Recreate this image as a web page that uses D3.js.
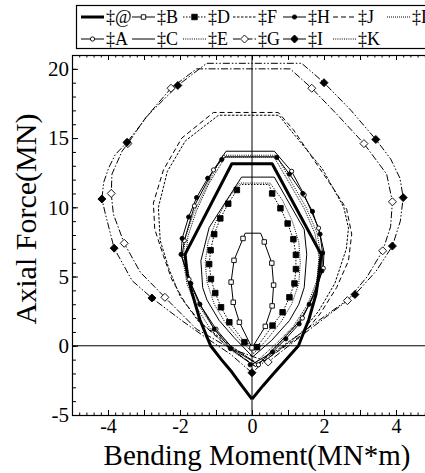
<!DOCTYPE html>
<html>
<head>
<meta charset="utf-8">
<script src="https://cdn.jsdelivr.net/npm/d3@7"></script>
<style>
  body { margin: 0; background: #fff; }
  svg text { fill: #000; }
</style>
</head>
<body>
<div id="chart"></div>
<script>
// each curve: [bending moment (MN*m), axial force (MN)]
var curveAt = [[0,-3.85],[-0.28,-2.9],[-0.56,-1.9],[-0.85,-1.0],[-1.15,0],[-1.45,1.9],[-1.67,3.86],[-1.8,5.2],[-1.86,6.6],[-0.56,13.15],[0.56,13.15],[1.92,6.6],[1.86,5.2],[1.78,3.74],[1.58,1.9],[1.29,0],[0.95,-1.0],[0.62,-1.95],[0.3,-2.9],[0,-3.85]];
var curveA = [[0.18,-1.37],[-0.5,-0.3],[-1.0,1.2],[-1.4,2.8],[-1.75,4.8],[-1.95,6.4],[-1.88,7.6],[-1.6,10.1],[-1.07,12.7],[-0.72,14.05],[0.62,14.05],[1.1,12.6],[1.45,10.9],[1.85,8.5],[2.0,6.8],[1.98,5.6],[1.75,3.8],[1.4,2.0],[0.9,0.6],[0.18,-1.37]];
var markA = [[0.18,-1.37],[-1.0,1.2],[-1.75,4.8],[-1.88,7.6],[-1.6,10.1],[-1.07,12.7],[1.1,12.6],[1.45,10.9],[1.85,8.5],[1.98,5.6],[1.4,2.0]];
var curveB = [[0,-0.15],[-0.35,1.7],[-0.52,3.14],[-0.58,4.6],[-0.5,6.17],[-0.25,7.75],[-0.19,8.13],[0.24,8.13],[0.34,7.5],[0.55,5.97],[0.6,4.38],[0.56,2.88],[0.37,1.4],[0,-0.15]];
var markB = [[0,-0.15],[-0.35,1.7],[-0.52,3.14],[-0.58,4.6],[-0.5,6.17],[-0.25,7.75],[0.34,7.5],[0.55,5.97],[0.6,4.38],[0.56,2.88],[0.37,1.4]];
var curveC = [[0.02,-0.8],[-0.5,0.6],[-0.91,1.82],[-1.25,3.3],[-1.37,4.2],[-1.42,6.14],[-1.19,8.54],[-0.29,12.18],[0.62,12.18],[1.45,8.4],[1.52,6.6],[1.45,4.2],[1.3,3.0],[1.04,1.82],[0.55,0.4],[0.02,-0.8]];
var curveD = [[0.14,-0.1],[-0.21,0.26],[-0.63,1.7],[-0.86,2.78],[-1.02,3.81],[-1.14,4.82],[-1.19,5.9],[-1.15,6.9],[-1.05,8.06],[-0.88,9.2],[-0.66,10.26],[-0.42,11.25],[-0.32,11.65],[0.47,11.65],[0.56,11.0],[0.79,9.93],[0.99,8.83],[1.15,7.7],[1.22,6.57],[1.22,5.54],[1.18,4.5],[1.04,3.5],[0.85,2.42],[0.57,1.46],[0.14,-0.1]];
var markD = [[0.14,-0.1],[-0.21,0.26],[-0.63,1.7],[-0.86,2.78],[-1.02,3.81],[-1.14,4.82],[-1.19,5.9],[-1.15,6.9],[-1.05,8.06],[-0.88,9.2],[-0.66,10.26],[-0.42,11.25],[0.56,11.0],[0.79,9.93],[0.99,8.83],[1.15,7.7],[1.22,6.57],[1.22,5.54],[1.18,4.5],[1.04,3.5],[0.85,2.42],[0.57,1.46]];
var curveE = [[0.05,-0.55],[-0.3,0.3],[-0.75,1.7],[-1.05,3.0],[-1.25,4.6],[-1.3,6.0],[-1.22,7.5],[-1.0,9.0],[-0.7,10.5],[-0.35,11.75],[0.5,11.75],[0.85,10.5],[1.12,9.0],[1.3,7.5],[1.34,6.0],[1.3,4.5],[1.1,3.0],[0.8,1.7],[0.4,0.4],[0.05,-0.55]];
var curveF = [[0.15,-1.3],[-0.6,0.0],[-1.5,1.8],[-2.0,3.6],[-2.3,5.5],[-2.55,7.6],[-2.6,10.0],[-2.35,12.6],[-1.85,14.8],[-0.93,16.65],[0.75,16.65],[1.0,15.8],[1.95,12.8],[2.55,10.0],[2.68,8.5],[2.62,7.0],[2.3,4.5],[1.85,2.5],[1.35,0.9],[0.15,-1.3]];
var curveG = [[0.45,-1.17],[-0.6,-0.2],[-1.54,1.2],[-2.42,3.5],[-3.1,5.3],[-3.55,7.4],[-3.85,9.5],[-3.91,11.0],[-3.89,12.4],[-3.61,14.05],[-3.45,14.6],[-2.96,16.45],[-2.25,18.6],[-1.54,20.0],[1.06,20.0],[1.66,18.6],[2.4,16.6],[3.11,14.6],[3.74,12.4],[3.9,10.4],[3.85,8.6],[3.63,6.86],[3.2,5.0],[2.65,3.26],[1.61,1.2],[0.45,-1.17]];
var markG = [[0.45,-1.17],[-2.42,3.5],[-3.55,7.4],[-3.91,11.0],[-3.45,14.6],[-2.25,18.6],[1.66,18.6],[3.11,14.6],[3.9,10.4],[3.63,6.86],[2.65,3.26]];
var curveH = [[0,-1.35],[-0.6,-0.2],[-1.05,1.2],[-1.45,3.0],[-1.7,4.5],[-1.97,6.6],[-1.94,7.75],[-1.76,9.3],[-1.54,10.7],[-1.23,12.1],[-0.84,13.45],[-0.75,13.65],[0.62,13.65],[0.69,13.6],[1.04,12.4],[1.41,11.0],[1.68,9.7],[1.89,8.06],[1.96,6.7],[1.94,5.4],[1.75,4.0],[1.59,3.0],[1.31,1.58],[0.94,0.5],[0.57,-0.45],[0,-1.35]];
var markH = [[-0.05,-1.37],[-0.6,-0.2],[-1.05,1.2],[-1.45,3.0],[-1.7,4.5],[-1.97,6.6],[-1.94,7.75],[-1.76,9.3],[-1.54,10.7],[-1.23,12.1],[-0.84,13.45],[0.69,13.6],[1.04,12.4],[1.41,11.0],[1.68,9.7],[1.89,8.06],[1.96,6.7],[1.94,5.4],[1.59,3.0],[1.31,1.58],[0.94,0.5],[0.57,-0.45]];
var curveI = [[0,-1.95],[-0.6,-0.6],[-1.3,0.62],[-1.94,1.8],[-2.78,3.45],[-3.33,4.7],[-3.83,7.05],[-4.07,9.5],[-4.17,10.6],[-4.12,11.8],[-3.98,12.85],[-3.8,13.8],[-3.47,14.7],[-2.87,16.7],[-2.06,18.8],[-1.26,20.4],[1.38,20.4],[2.0,19.0],[2.75,17.0],[3.44,14.9],[3.85,13.5],[4.11,12.1],[4.2,10.7],[4.12,9.0],[3.9,7.2],[3.45,5.4],[2.86,3.7],[2.0,2.1],[1.2,0.6],[0.4,-1.0],[0,-1.95]];
var markI = [[0,-1.95],[-2.78,3.45],[-3.83,7.05],[-4.17,10.6],[-3.47,14.7],[-2.06,18.8],[2.0,19.0],[3.44,14.9],[4.2,10.7],[3.9,7.2],[2.86,3.7]];
var curveJ = [[0.1,-1.5],[-0.7,0.0],[-1.44,1.7],[-1.86,3.1],[-2.23,4.8],[-2.46,6.5],[-2.7,8.4],[-2.74,10.3],[-2.46,12.7],[-1.95,15.0],[-1.07,16.85],[0.73,16.85],[1.15,15.6],[1.75,13.3],[2.3,11.2],[2.63,9.86],[2.77,8.06],[2.68,6.14],[2.35,4.2],[1.89,2.3],[1.43,0.86],[0.1,-1.5]];
var curveK = [[0.1,-1.5],[-0.6,-0.3],[-1.1,1.0],[-1.5,2.6],[-1.8,4.4],[-1.92,6.2],[-1.85,7.8],[-1.62,9.6],[-1.25,11.6],[-0.81,13.76],[0.67,13.76],[1.1,11.8],[1.5,10.0],[1.8,8.2],[1.92,6.5],[1.85,4.8],[1.6,3.0],[1.2,1.4],[0.7,0.0],[0.1,-1.5]];
var curveL = [[0.1,-1.2],[-0.55,-0.1],[-1.05,1.2],[-1.45,2.8],[-1.72,4.6],[-1.84,6.3],[-1.78,7.9],[-1.55,9.7],[-1.2,11.7],[-0.75,13.6],[0.62,13.6],[1.05,11.7],[1.45,9.9],[1.75,8.1],[1.86,6.4],[1.8,4.7],[1.55,3.0],[1.15,1.4],[0.65,0.1],[0.1,-1.2]];

var xTicks = [-4, -2, 0, 2, 4];
var yTicks = [-5, 0, 5, 10, 15, 20];

// series table: name, curve, markers, dash, width, marker type
var series = [
  {name: "‡@", pts: curveAt, marks: [], dash: null, w: 3, sym: null},
  {name: "‡A", pts: curveA, marks: markA, dash: null, w: 1, sym: "circleOpen"},
  {name: "‡B", pts: curveB, marks: markB, dash: null, w: 1, sym: "squareOpen"},
  {name: "‡C", pts: curveC, marks: [], dash: null, w: 1, sym: null},
  {name: "‡D", pts: curveD, marks: markD, dash: "1.5,1.5", w: 1, sym: "square"},
  {name: "‡E", pts: curveE, marks: [], dash: "1,1.2", w: 1, sym: null},
  {name: "‡F", pts: curveF, marks: [], dash: "2.5,1.5", w: 1, sym: null},
  {name: "‡G", pts: curveG, marks: markG, dash: "7,2,1.5,2", w: 1, sym: "diamondOpen"},
  {name: "‡H", pts: curveH, marks: markH, dash: null, w: 1, sym: "circle"},
  {name: "‡I", pts: curveI, marks: markI, dash: "7,2,1.5,2,1.5,2", w: 1, sym: "diamond"},
  {name: "‡J", pts: curveJ, marks: [], dash: "5,3", w: 1, sym: null},
  {name: "‡K", pts: curveK, marks: [], dash: "1,1.2", w: 1, sym: null},
  {name: "‡L", pts: curveL, marks: [], dash: "1,1", w: 1, sym: null}
];

var serif = "'Liberation Serif', 'Times New Roman', Times, serif";
var W = 425, H = 473;
var x = d3.scaleLinear().domain([-5, 5]).range([72, 432]);
var y = d3.scaleLinear().domain([-5, 21]).range([415, 55]);

var svg = d3.select("#chart").append("svg")
    .attr("width", W).attr("height", H)
    .attr("font-family", serif);

svg.append("clipPath").attr("id", "plotclip")
  .append("rect")
    .attr("x", x(-5)).attr("y", y(21))
    .attr("width", x(5) - x(-5)).attr("height", y(-5) - y(21));

// frame
svg.append("rect")
    .attr("x", x(-5) + 0.5).attr("y", y(21) + 0.5)
    .attr("width", x(5) - x(-5)).attr("height", y(-5) - y(21))
    .attr("fill", "none").attr("stroke", "#000").attr("stroke-width", 1.2);

var minorX = d3.range(-50, 51, 2).map(function(d) { return d / 10; });
var minorY = d3.range(-5, 22, 1);

function noDomain(g) { g.select(".domain").remove(); g.attr("font-family", serif); }

// bottom ticks
svg.append("g").attr("transform", "translate(0," + y(-5) + ")")
    .call(d3.axisBottom(x).tickValues(minorX).tickSize(-2.5).tickFormat(""))
    .call(noDomain);
svg.append("g").attr("transform", "translate(0," + y(-5) + ")")
    .call(d3.axisBottom(x).tickValues(xTicks).tickSize(-5).tickPadding(4)
          .tickFormat(function(d) { return String(d); }))
    .call(noDomain)
    .selectAll("text").style("font-size", "20px");
svg.append("g").attr("transform", "translate(0," + y(-5) + ")")
    .call(d3.axisBottom(x).tickValues([-5, -3, -1, 1, 3, 5]).tickSize(-5).tickFormat(""))
    .call(noDomain);
// top ticks
svg.append("g").attr("transform", "translate(0," + y(21) + ")")
    .call(d3.axisTop(x).tickValues(minorX).tickSize(-2.5).tickFormat(""))
    .call(noDomain);
svg.append("g").attr("transform", "translate(0," + y(21) + ")")
    .call(d3.axisTop(x).tickValues(d3.range(-5, 6)).tickSize(-5).tickFormat(""))
    .call(noDomain);
// left ticks
svg.append("g").attr("transform", "translate(" + x(-5) + ",0)")
    .call(d3.axisLeft(y).tickValues(minorY).tickSize(-4).tickFormat(""))
    .call(noDomain);
svg.append("g").attr("transform", "translate(" + x(-5) + ",0)")
    .call(d3.axisLeft(y).tickValues(yTicks).tickSize(-6).tickPadding(3).tickFormat(function(d) { return String(d); }))
    .call(noDomain)
    .selectAll("text").style("font-size", "21px");

svg.selectAll(".tick line").attr("stroke", "#000");

var plot = svg.append("g").attr("clip-path", "url(#plotclip)");

// zero lines
plot.append("line").attr("x1", x(-5)).attr("x2", x(5)).attr("y1", y(0)).attr("y2", y(0))
    .attr("stroke", "#000").attr("stroke-width", 1);
plot.append("line").attr("x1", x(0)).attr("x2", x(0)).attr("y1", y(-5)).attr("y2", y(21))
    .attr("stroke", "#000").attr("stroke-width", 1);

var line = d3.line()
    .x(function(d) { return x(d[0]); })
    .y(function(d) { return y(d[1]); });

plot.selectAll("path.curve")
  .data(series)
  .enter().append("path")
    .attr("class", "curve")
    .attr("d", function(d) { return line(d.pts); })
    .attr("fill", "none")
    .attr("stroke", "#000")
    .attr("stroke-width", function(d) { return d.w; })
    .attr("stroke-linejoin", "round")
    .attr("stroke-dasharray", function(d) { return d.dash; });

function symbolPath(sym) {
  if (sym === "circle" || sym === "circleOpen") return d3.symbol().type(d3.symbolCircle).size(14)();
  if (sym === "square" || sym === "squareOpen") return d3.symbol().type(d3.symbolSquare).size(sym === "square" ? 30 : 20)();
  return "M0,-4L4,0L0,4L-4,0Z";
}
function drawSymbol(g, sym, px, py) {
  if (!sym) return;
  var open = /Open$/.test(sym);
  g.append("path")
    .attr("d", symbolPath(sym))
    .attr("transform", "translate(" + px + "," + py + ")")
    .attr("fill", open ? "#fff" : "#000")
    .attr("stroke", "#000")
    .attr("stroke-width", 0.9);
}

series.forEach(function(s) {
  s.marks.forEach(function(p) { drawSymbol(plot, s.sym, x(p[0]), y(p[1])); });
});

// axis titles
svg.append("text")
    .attr("x", 257).attr("y", 465)
    .attr("text-anchor", "middle")
    .style("font-size", "29px")
    .text("Bending Moment(MN*m)");
svg.append("text")
    .attr("transform", "translate(36,219) rotate(-90)")
    .attr("text-anchor", "middle")
    .style("font-size", "30px")
    .text("Axial Force(MN)");

// legend
var legend = svg.append("g");
legend.append("rect")
    .attr("x", 76.5).attr("y", 5.5).attr("width", 360).attr("height", 43)
    .attr("fill", "#fff").attr("stroke", "#000").attr("stroke-width", 1.2);
var colX = [81, 132, 183, 233, 283, 333, 387];
series.forEach(function(s, i) {
  var col = Math.floor(i / 2), row = i % 2;
  var lx = colX[col], ly = row === 0 ? 17 : 39;
  var g = legend.append("g");
  g.append("line")
      .attr("x1", lx).attr("x2", lx + 23).attr("y1", ly).attr("y2", ly)
      .attr("stroke", "#000").attr("stroke-width", s.w)
      .attr("stroke-dasharray", s.dash);
  drawSymbol(g, s.sym, lx + 11.5, ly);
  g.append("text")
      .attr("x", lx + 25).attr("y", ly + 6)
      .style("font-size", "18px")
      .text(s.name);
});
</script>
</body>
</html>
